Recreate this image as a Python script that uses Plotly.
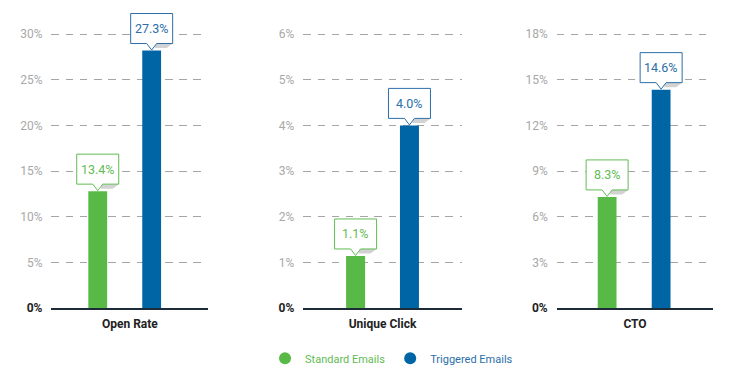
import plotly.graph_objects as go
from plotly.subplots import make_subplots

# ---- data ----
metrics = ["Open Rate", "Unique Click", "CTO"]
series_names = ["Standard Emails", "Triggered Emails"]
standard_values = [12.8, 1.14, 7.3]      # bar heights (%)
triggered_values = [28.2, 4.0, 14.35]    # bar heights (%)
standard_labels = ["13.4%", "1.1%", "8.3%"]
triggered_labels = ["27.3%", "4.0%", "14.6%"]
y_maxes = [30, 6, 18]
y_steps = [5, 1, 3]

# ---- style ----
GREEN = "#58b947"
BLUE = "#0065a5"
GREEN_TXT = "#62bb55"
BLUE_TXT = "#2b6ea9"
FONT = "Roboto"
W, H = 742, 365
domains = [[0.0586, 0.2699], [0.3980, 0.6115], [0.7395, 0.9505]]
offsets = [[-0.265, 0.079], [-0.230, 0.110], [-0.238, 0.107]]
BAR_W = 0.12
RANGE_PAD = 1.004
X_RANGE = [-0.5, 0.5]

fig = make_subplots(rows=1, cols=3)

for i, m in enumerate(metrics):
    vals = [standard_values[i], triggered_values[i]]
    cols = [GREEN, BLUE]
    labs = [standard_labels[i], triggered_labels[i]]
    tcols = [GREEN_TXT, BLUE_TXT]
    xa = "x" if i == 0 else f"x{i+1}"
    ya = "y" if i == 0 else f"y{i+1}"
    ytop = y_maxes[i] * RANGE_PAD
    for j in range(2):
        fig.add_trace(go.Bar(x=[m], y=[vals[j]], width=BAR_W, offset=offsets[i][j],
                             marker=dict(color=cols[j], line=dict(width=0)),
                             showlegend=False, hoverinfo="skip"), row=1, col=i + 1)
        cx = offsets[i][j] + BAR_W / 2
        # anchor in axis-domain fractions (so the callout is not clipped by the plot area)
        ax_x = (cx - X_RANGE[0]) / (X_RANGE[1] - X_RANGE[0])
        ax_y = vals[j] / ytop
        common = dict(type="path", xref=f"{xa} domain", yref=f"{ya} domain",
                      xsizemode="pixel", ysizemode="pixel", xanchor=ax_x, yanchor=ax_y,
                      layer="above")
        # shadow
        fig.add_shape(path="M 4,7 L 21,7 L 15,2.5 L 3,2.5 Z",
                      fillcolor="#d2d2d2", line=dict(width=0), **common)
        # callout box with pointer
        fig.add_shape(path="M -21,7 L -5,7 L 0,0.5 L 5,7 L 21,7 L 21,37 L -21,37 Z",
                      fillcolor="white", line=dict(color=tcols[j], width=1), **common)
        fig.add_annotation(x=cx, y=vals[j], xref=xa, yref=ya, text=labs[j],
                           showarrow=False, yshift=22,
                           font=dict(family=FONT, size=12.5, color=tcols[j]))

    tv = list(range(0, y_maxes[i] + 1, y_steps[i]))
    tt = ['<b><span style="color:#222222">0%</span></b>'] + [f"{v}%" for v in tv[1:]]
    fig.update_yaxes(range=[0, ytop], tickvals=tv, ticktext=tt,
                     showgrid=True, gridcolor="#a5a5a5", griddash="7.5px,6.7px", gridwidth=1,
                     zeroline=False, showline=False, ticks="", ticklabelstandoff=8,
                     tickfont=dict(family=FONT, size=12, color="#a8a8a8"),
                     row=1, col=i + 1)
    fig.update_xaxes(domain=domains[i], range=X_RANGE, showgrid=False, zeroline=False,
                     showline=True, linecolor="#1d2a38", linewidth=1.5, ticks="",
                     ticklabelstandoff=4,
                     tickfont=dict(family=FONT, size=12, color="#222222"),
                     tickvals=[m], ticktext=[f"<b>{m}</b>"],
                     row=1, col=i + 1)

# legend entries
for name, c, tc in [(series_names[0], GREEN, GREEN_TXT), (series_names[1], BLUE, BLUE_TXT)]:
    fig.add_trace(go.Scatter(x=[None], y=[None], mode="markers", name=f'<span style="color:{tc}">{name}</span>',
                             marker=dict(color=c, size=12, symbol="circle")), row=1, col=2)

fig.update_layout(
    width=W, height=H,
    margin=dict(l=0, r=0, t=24.6, b=65.3),
    paper_bgcolor="white", plot_bgcolor="white",
    barmode="overlay",
    font=dict(family=FONT),
    legend=dict(orientation="h", x=0.3464, xanchor="left", y=-0.183, yanchor="middle",
                font=dict(family=FONT, size=11), itemsizing="constant"),
)

fig.write_html("out.html")
